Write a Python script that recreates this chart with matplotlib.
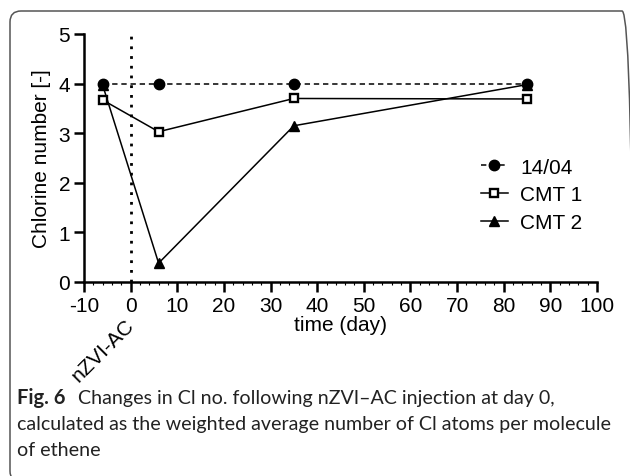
import matplotlib
matplotlib.use("Agg")
import matplotlib.pyplot as plt
from matplotlib.patches import FancyBboxPatch
from matplotlib.ticker import MultipleLocator

days = [-6, 6, 35, 85]
s_1404 = [4.0, 4.0, 4.0, 4.0]
s_cmt1 = [3.67, 3.03, 3.70, 3.69]
s_cmt2 = [3.97, 0.38, 3.15, 3.98]
series_names = ["14/04", "CMT 1", "CMT 2"]
x_ticks = [-10, 0, 10, 20, 30, 40, 50, 60, 70, 80, 90, 100]
y_ticks = [0, 1, 2, 3, 4, 5]

W, H = 630, 477
fig = plt.figure(figsize=(W / 100, H / 100), dpi=100)

def fx(px):
    return px / W

def fy(py):
    return 1 - py / H

ax = fig.add_axes([fx(84), fy(283), fx(597) - fx(84), fy(35) - fy(283)])
afont = "Liberation Sans"
fs = 15

ax.plot(days, s_1404, linestyle=(0, (3.5, 2.5)), color="black", lw=1.1,
        marker="o", ms=7.5, mfc="black", mec="black", label=series_names[0], zorder=3)
ax.plot(days, s_cmt1, linestyle="-", color="black", lw=1.1,
        marker="s", ms=6.3, mfc="white", mec="black", mew=1.7, label=series_names[1], zorder=4)
ax.plot(days, s_cmt2, linestyle="-", color="black", lw=1.1,
        marker="^", ms=7.5, mfc="black", mec="black", label=series_names[2], zorder=2)

ax.plot([0, 0], [0, 5], linestyle=(0, (1, 2.5)), color="black", lw=2, zorder=1)

ax.set_xlim(-10, 100)
ax.set_ylim(0, 5)
ax.set_xticks(x_ticks)
ax.set_yticks(y_ticks)
ax.set_xticklabels([str(v) for v in x_ticks], fontsize=fs, family=afont)
ax.set_yticklabels([str(v) for v in y_ticks], fontsize=fs, family=afont)
ax.xaxis.set_minor_locator(MultipleLocator(2))
ax.tick_params(axis="both", which="major", direction="out", length=7, width=1.8, pad=3)
ax.tick_params(axis="x", which="minor", direction="out", length=2.5, width=0.8)
for s in ["top", "right"]:
    ax.spines[s].set_visible(False)
for s in ["left", "bottom"]:
    ax.spines[s].set_linewidth(1.8)

ax.set_xlabel("time (day)", fontsize=fs, family=afont, labelpad=0)
ax.set_ylabel("Chlorine number [-]", fontsize=fs, family=afont, labelpad=5)

leg = ax.legend(loc="upper left", bbox_to_anchor=(0.757, 0.535), frameon=False,
                prop={"family": afont, "size": fs}, handlelength=1.3,
                handletextpad=0.6, labelspacing=0.42, borderaxespad=0)

fig.text(fx(124), fy(316), "nZVI-AC", rotation=45, ha="right", va="top",
         fontsize=fs, family=afont, rotation_mode="anchor")

cfont = "Lato"
cap_size = 14.1
cap_color = "#222222"
fig.text(fx(17), fy(404), "Fig. 6", fontsize=cap_size + 0.4, family=cfont,
         weight="bold", color=cap_color)
fig.text(fx(78), fy(404), "Changes in Cl no. following nZVI\u2013AC injection at day 0,",
         fontsize=cap_size, family=cfont, color=cap_color)
fig.text(fx(17), fy(430), "calculated as the weighted average number of Cl atoms per molecule",
         fontsize=cap_size, family=cfont, color=cap_color)
fig.text(fx(17), fy(456), "of ethene", fontsize=cap_size, family=cfont, color=cap_color)

# rounded frame in pixel units (converted to inches)
x0, x1, y0, y1 = 10, 633, 12, 483
box = FancyBboxPatch((x0 / 100, (H - y1) / 100), (x1 - x0) / 100, (y1 - y0) / 100,
                     boxstyle="round,pad=0,rounding_size=0.11",
                     transform=fig.dpi_scale_trans, fill=False, ec="#555555", lw=1.1)
fig.patches.append(box)

fig.savefig("out.png", dpi=100)
